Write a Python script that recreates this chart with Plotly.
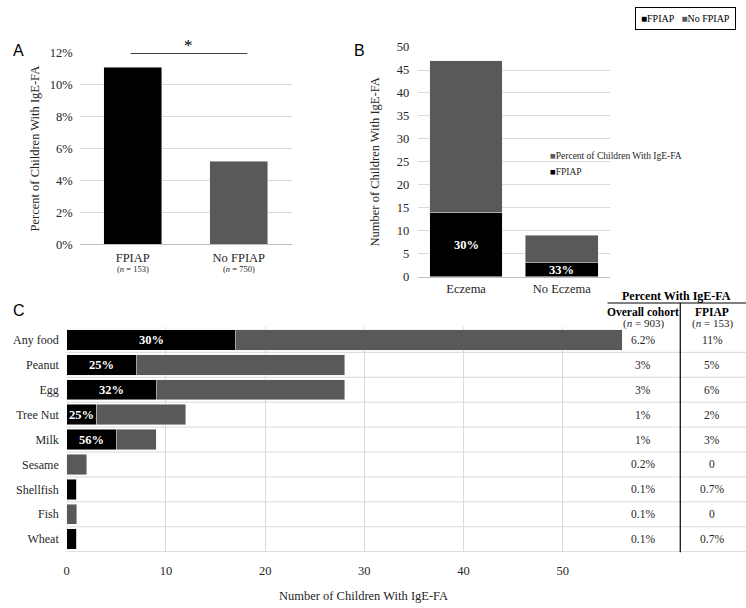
import plotly.graph_objects as go

W, H = 746, 608

# Panel A: percent of children with IgE-FA
a_groups = ["FPIAP", "No FPIAP"]
a_n = [153, 750]
a_pct = [0.111, 0.052]

# Panel B: number with IgE-FA by eczema status
b_groups = ["Eczema", "No Eczema"]
b_fpiap = [14, 3]
b_total = [47, 9]

# Panel C: number with IgE-FA by food
foods = ["Any food", "Peanut", "Egg", "Tree Nut", "Milk", "Sesame", "Shellfish", "Fish", "Wheat"]
c_fpiap = [17, 7, 9, 3, 5, 0, 1, 0, 1]
c_total = [56, 28, 28, 12, 9, 2, 1, 1, 1]
c_labels = ["30%", "25%", "32%", "25%", "56%", "", "", "", ""]
overall_pct = ["6.2%", "3%", "3%", "1%", "1%", "0.2%", "0.1%", "0.1%", "0.1%"]
fpiap_pct = ["11%", "5%", "6%", "2%", "3%", "0", "0.7%", "0", "0.7%"]

BLACK = "#000000"
GRAY = "#595959"
GRID = "#d9d9d9"
TXT = "#262626"
SERIF = "Liberation Serif"
SANS = "Liberation Sans"


def px(x):
    return x / W


def py(y):
    return 1 - y / H


def note(x, y, text, size=12, color=TXT, family=SERIF, xanchor="center", yanchor="middle", **kw):
    fig.add_annotation(x=x, y=y, xref=kw.pop("xref", "paper"), yref=kw.pop("yref", "paper"),
                       text=text, showarrow=False, xanchor=xanchor, yanchor=yanchor,
                       font=dict(family=family, size=size, color=color), **kw)


fig = go.Figure()

# A
fig.add_trace(go.Bar(x=a_groups, y=a_pct, marker_color=[BLACK, GRAY], width=0.55,
                     xaxis="x", yaxis="y", showlegend=False))

# B
b_gray = [t - f for t, f in zip(b_total, b_fpiap)]
fig.add_trace(go.Bar(x=b_groups, y=b_fpiap, marker_color=BLACK, width=0.76, name="FPIAP",
                     xaxis="x2", yaxis="y2", showlegend=False))
fig.add_trace(go.Bar(x=b_groups, y=b_gray, marker_color=GRAY, width=0.76,
                     name="Percent of Children With IgE-FA",
                     xaxis="x2", yaxis="y2", showlegend=False))

# C
c_gray = [t - f for t, f in zip(c_total, c_fpiap)]
fig.add_trace(go.Bar(y=foods, x=c_fpiap, orientation="h", marker_color=BLACK, width=0.82,
                     xaxis="x3", yaxis="y3", showlegend=False))
fig.add_trace(go.Bar(y=foods, x=c_gray, orientation="h", marker_color=GRAY, width=0.82,
                     xaxis="x3", yaxis="y3", showlegend=False))

# white share labels centred on the FPIAP segments
for g, f, t in zip(b_groups, b_fpiap, b_total):
    note(g, f / 2, f"<b>{round(100 * f / t)}%</b>", size=12.5, color="white",
         xref="x2", yref="y2")
for food, f, lab in zip(foods, c_fpiap, c_labels):
    if lab:
        note(f / 2, food, f"<b>{lab}</b>", size=12.5, color="white", xref="x3", yref="y3")

tickfont = dict(family=SERIF, size=12.5, color=TXT)

fig.update_layout(
    width=W, height=H, margin=dict(l=0, r=0, t=0, b=0),
    plot_bgcolor="white", paper_bgcolor="white",
    barmode="stack",
    font=dict(family=SERIF, color=TXT),
    xaxis=dict(domain=[px(77), px(290)], anchor="y", range=[-0.5, 1.5],
               showgrid=False, showline=True, linecolor="#bfbfbf", ticks="",
               tickfont=tickfont, ticklabelstandoff=2),
    yaxis=dict(domain=[py(243), py(47)], anchor="x", range=[0, 0.12], dtick=0.02,
               tickformat=".0%", gridcolor=GRID, zeroline=False, ticks="",
               tickfont=tickfont, ticklabelstandoff=6,
               title=dict(text="Percent of Children With IgE-FA", standoff=7,
                          font=dict(family=SERIF, size=12.5, color=TXT))),
    xaxis2=dict(domain=[px(417), px(609)], anchor="y2", range=[-0.5, 1.5],
                showgrid=False, showline=True, linecolor="#bfbfbf", ticks="",
                tickfont=tickfont),
    yaxis2=dict(domain=[py(276), py(41)], anchor="x2", range=[0, 50], dtick=5,
                gridcolor=GRID, zeroline=False, ticks="", tickfont=tickfont,
                ticklabelstandoff=8,
                title=dict(text="Number of Children With IgE-FA", standoff=14,
                           font=dict(family=SERIF, size=12.5, color=TXT))),
    xaxis3=dict(domain=[px(64), 1], anchor="y3", range=[0, (W - 64) / 9.96],
                tickvals=[0, 10, 20, 30, 40, 50], gridcolor=GRID, zeroline=False,
                showline=False, ticks="", tickfont=tickfont, ticklabelstandoff=9),
    yaxis3=dict(domain=[py(558), py(328)], anchor="x3", categoryorder="array",
                categoryarray=foods, autorange="reversed", showgrid=False,
                ticks="", tickfont=dict(family=SERIF, size=12, color=TXT),
                ticklabelstandoff=7),
)

# group sizes under A's categories
for g, n in zip(a_groups, a_n):
    note(g, py(268), f"(<i>n</i> = {n})", size=8.5, xref="x")

# row separators in C, spanning chart and table
for k in range(1, len(foods) + 1):
    fig.add_shape(type="line", xref="paper", yref="y3", x0=px(64), x1=1,
                  y0=k - 0.5, y1=k - 0.5, line=dict(color=GRID, width=1))

# significance bracket in A
fig.add_shape(type="line", xref="x", yref="y", x0=-0.02, x1=1.08, y0=0.12, y1=0.12,
              line=dict(color=BLACK, width=1.5))
note(0.53, 0.12, "*", size=17, color=BLACK, xref="x", yref="y", yanchor="bottom", yshift=-4)

# panel letters
for letter, lx, ly in [("A", 8, 45), ("B", 350, 45), ("C", 8, 311)]:
    note(px(lx), py(ly), letter, size=16, color=BLACK, family=SANS, xanchor="left")

# top legend box
note(px(685), py(12),
     f"<span style='color:{BLACK}'>■</span>FPIAP   <span style='color:{GRAY}'>■</span>No FPIAP",
     size=10, color=BLACK, bordercolor=BLACK, borderwidth=1, borderpad=5, bgcolor="white")

# legend inside B
for txt, col, ly in [("Percent of Children With IgE-FA", GRAY, 152), ("FPIAP", BLACK, 169)]:
    note(px(547), py(ly), f"<span style='color:{col}'>■</span>{txt}", size=9.5, xanchor="left")

# table beside C
note(px(676), py(296), "<b>Percent With IgE-FA</b>", size=12, color=BLACK)
fig.add_shape(type="line", xref="paper", yref="paper", x0=px(607), x1=1, y0=py(303), y1=py(303),
              line=dict(color=BLACK, width=1.2))
fig.add_shape(type="line", xref="paper", yref="paper", x0=px(680), x1=px(680), y0=py(303), y1=py(558),
              line=dict(color=BLACK, width=1.2))
for cx, head, n in [(643, "Overall cohort", 903), (712, "FPIAP", 153)]:
    note(px(cx), py(312), f"<b>{head}</b>", size=11.5, color=BLACK)
    note(px(cx), py(324), f"(<i>n</i> = {n})", size=11)
for food, o, f in zip(foods, overall_pct, fpiap_pct):
    note(px(643), food, o, size=11.5, yref="y3")
    note(px(712), food, f, size=11.5, yref="y3")

# x title of C
note(px(362), py(603), "Number of Children With IgE-FA", size=12.5)

fig.write_html("out.html", config={"displayModeBar": False},
               post_script="document.body.style.margin='0';")
